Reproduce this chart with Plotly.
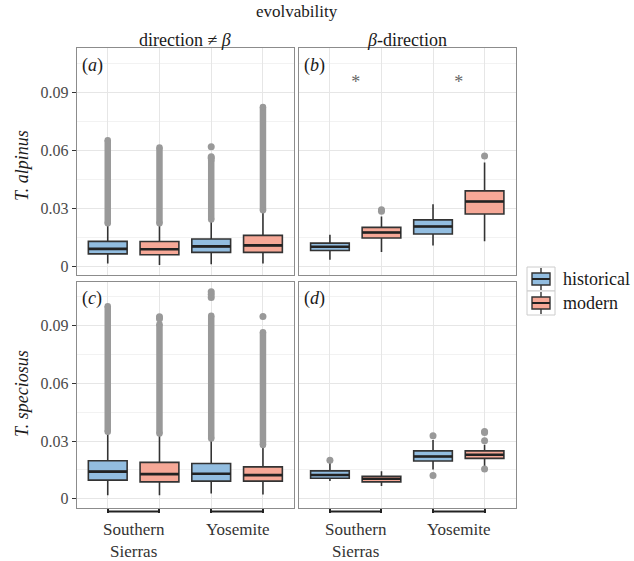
import plotly.graph_objects as go

# ---------------- data ----------------
groups = ["historical", "modern"]
group_colors = ["#92bde0", "#f6a897"]
region_labels = ["Southern<br>Sierras", "Yosemite"]
col_titles = ["direction ≠ <i>β</i>", "<i>β</i>-direction"]
row_titles = ["<i>T. alpinus</i>", "<i>T. speciosus</i>"]
panel_tags = ["(<i>a</i>)", "(<i>b</i>)", "(<i>c</i>)", "(<i>d</i>)"]
overall_title = "evolvability"
y_ticks = [0, 0.03, 0.06, 0.09]
y_ticklabels = ["0", "0.03", "0.06", "0.09"]

# box order in every panel: SS-historical, SS-modern, Yosemite-historical, Yosemite-modern
positions = [1, 2, 3, 4]

# (a) T. alpinus, direction != beta
a_low = [0.0014, 0.0007, 0.0011, 0.0014]
a_q1 = [0.0064, 0.0060, 0.0072, 0.0072]
a_med = [0.0090, 0.0088, 0.0103, 0.0108]
a_q3 = [0.0129, 0.0128, 0.0141, 0.0160]
a_up = [0.0215, 0.0215, 0.0235, 0.0283]
a_run_lo = [0.0222, 0.0222, 0.0242, 0.0290]
a_run_hi = [0.0652, 0.0614, 0.0548, 0.0823]
a_iso = [[], [], [0.0558, 0.0566, 0.0618], []]

# (b) T. alpinus, beta-direction
b_low = [0.0034, 0.0074, 0.0107, 0.0129]
b_q1 = [0.0082, 0.0146, 0.0167, 0.0270]
b_med = [0.0101, 0.0175, 0.0206, 0.0335]
b_q3 = [0.0120, 0.0201, 0.0240, 0.0390]
b_up = [0.0163, 0.0257, 0.0321, 0.0537]
b_run_lo = [None, None, None, None]
b_run_hi = [None, None, None, None]
b_iso = [[], [0.0285, 0.0292], [], [0.0570]]

# (c) T. speciosus, direction != beta
c_low = [0.0018, 0.0018, 0.0028, 0.0022]
c_q1 = [0.0097, 0.0088, 0.0092, 0.0092]
c_med = [0.0141, 0.0128, 0.0130, 0.0123]
c_q3 = [0.0198, 0.0189, 0.0183, 0.0166]
c_up = [0.0341, 0.0332, 0.0306, 0.0272]
c_run_lo = [0.0348, 0.0339, 0.0313, 0.0279]
c_run_hi = [0.1000, 0.0906, 0.0950, 0.0864]
c_iso = [[], [0.0935, 0.0945], [0.1045, 0.1060, 0.1075], [0.0946]]

# (d) T. speciosus, beta-direction
d_low = [0.0092, 0.0066, 0.0152, 0.0169]
d_q1 = [0.0107, 0.0088, 0.0196, 0.0210]
d_med = [0.0124, 0.0104, 0.0220, 0.0229]
d_q3 = [0.0145, 0.0117, 0.0249, 0.0249]
d_up = [0.0186, 0.0143, 0.0306, 0.0281]
d_run_lo = [None, None, None, None]
d_run_hi = [None, None, None, None]
d_iso = [[0.0200], [], [0.0328, 0.0121], [0.0344, 0.0350, 0.0302, 0.0155]]

# significance marks in panel (b)
sig_x = [1.5, 3.5]
sig_y = [0.0945, 0.0945]
sig_text = ["*", "*"]

# ---------------- figure ----------------
W, H = 634, 561
FONT = "Liberation Serif, Times New Roman, DejaVu Serif, serif"
BOXW = 0.75
OUTLINE = "#333333"
OUTCOL = "#999999"
GRID = "#e6e6e6"
MINOR = "#f2f2f2"
BORDER = "#8c8c8c"
YR = [-0.0045, 0.1127]
XR = [0.4, 4.6]

def px(x):
    return x / W

def py(y):
    return 1 - y / H

xdom = [[px(76.7), px(294.0)], [px(299.0), px(515.5)]]
ydom = [[py(275.0), py(48.3)], [py(507.5), py(281.7)]]

panels = [
    (a_low, a_q1, a_med, a_q3, a_up, a_run_lo, a_run_hi, a_iso),
    (b_low, b_q1, b_med, b_q3, b_up, b_run_lo, b_run_hi, b_iso),
    (c_low, c_q1, c_med, c_q3, c_up, c_run_lo, c_run_hi, c_iso),
    (d_low, d_q1, d_med, d_q3, d_up, d_run_lo, d_run_hi, d_iso),
]

fig = go.Figure()
for k, (low, q1, med, q3, up, rlo, rhi, iso) in enumerate(panels):
    sfx = "" if k == 0 else str(k + 1)
    xa, ya = "x" + sfx, "y" + sfx
    rx, ry = [], []
    for i, p in enumerate(positions):
        if rlo[i] is not None:
            rx += [p, p, None]
            ry += [rlo[i], rhi[i], None]
    if rx:
        fig.add_trace(go.Scatter(x=rx, y=ry, mode="lines+markers", xaxis=xa, yaxis=ya,
                                 line=dict(color=OUTCOL, width=6.5),
                                 marker=dict(color=OUTCOL, size=6.5),
                                 showlegend=False, hoverinfo="skip"))
    ix, iy = [], []
    for i, p in enumerate(positions):
        for v in iso[i]:
            ix.append(p)
            iy.append(v)
    if ix:
        fig.add_trace(go.Scatter(x=ix, y=iy, mode="markers", xaxis=xa, yaxis=ya,
                                 marker=dict(color=OUTCOL, size=7),
                                 showlegend=False, hoverinfo="skip"))
    for g in range(2):
        idx = [i for i in range(4) if i % 2 == g]
        fig.add_trace(go.Box(
            x=[positions[i] for i in idx],
            q1=[q1[i] for i in idx], median=[med[i] for i in idx],
            q3=[q3[i] for i in idx], lowerfence=[low[i] for i in idx],
            upperfence=[up[i] for i in idx],
            width=BOXW, whiskerwidth=0, boxpoints=False,
            fillcolor=group_colors[g], line=dict(color=OUTLINE, width=1.6),
            name=groups[g], showlegend=False, xaxis=xa, yaxis=ya, hoverinfo="skip"))
    mx, my = [], []
    for i, p in enumerate(positions):
        mx += [p - BOXW / 2, p + BOXW / 2, None]
        my += [med[i], med[i], None]
    fig.add_trace(go.Scatter(x=mx, y=my, mode="lines", xaxis=xa, yaxis=ya,
                             line=dict(color="#222222", width=2.6),
                             showlegend=False, hoverinfo="skip"))

fig.add_trace(go.Scatter(x=sig_x, y=sig_y, mode="text", text=sig_text, xaxis="x2", yaxis="y2",
                         textfont=dict(family=FONT, size=18, color="#666666"),
                         showlegend=False, hoverinfo="skip"))

layout = dict(
    width=W, height=H, margin=dict(l=0, r=0, t=0, b=0),
    paper_bgcolor="white", plot_bgcolor="white", boxmode="overlay",
    showlegend=False, font=dict(family=FONT, color="#333333"),
)
for k in range(4):
    r, c = divmod(k, 2)
    sfx = "" if k == 0 else str(k + 1)
    layout["xaxis" + sfx] = dict(
        domain=xdom[c], range=XR, anchor="y" + sfx, tickvals=positions,
        showticklabels=False, showgrid=True, gridcolor=GRID, gridwidth=1, zeroline=False,
        showline=True, mirror=True, linecolor=BORDER, linewidth=1,
        ticks="outside" if r == 1 else "", ticklen=4, tickwidth=2, tickcolor="#222222",
    )
    layout["yaxis" + sfx] = dict(
        domain=ydom[r], range=YR, anchor="x" + sfx, tickvals=y_ticks, ticktext=y_ticklabels,
        showticklabels=(c == 0), ticks="outside" if c == 0 else "", ticklen=4, tickwidth=1.2,
        tickcolor="#333333", tickfont=dict(family=FONT, size=16, color="#4a4a4a"),
        showgrid=True, gridcolor=GRID, gridwidth=1, zeroline=False,
        showline=True, mirror=True, linecolor=BORDER, linewidth=1,
        minor=dict(tickmode="linear", tick0=0, dtick=0.015, showgrid=True,
                   gridcolor=MINOR, gridwidth=0.7, ticks=""),
    )
fig.update_layout(**layout)

annotations = []
shapes = []
annotations.append(dict(text=overall_title, x=px(297), y=py(12), xref="paper", yref="paper",
                        showarrow=False, xanchor="center", yanchor="middle",
                        font=dict(family=FONT, size=17, color="#1a1a1a")))
for c in range(2):
    annotations.append(dict(text=col_titles[c], x=(xdom[c][0] + xdom[c][1]) / 2, y=py(40),
                            xref="paper", yref="paper", showarrow=False,
                            xanchor="center", yanchor="middle",
                            font=dict(family=FONT, size=18, color="#1a1a1a")))
row_centers = [166, 394]
for r in range(2):
    annotations.append(dict(text=row_titles[r], x=px(22), y=py(row_centers[r]),
                            xref="paper", yref="paper", showarrow=False, textangle=-90,
                            xanchor="center", yanchor="middle",
                            font=dict(family=FONT, size=18, color="#1a1a1a")))
for k in range(4):
    sfx = "" if k == 0 else str(k + 1)
    annotations.append(dict(text=panel_tags[k], x=0.014, y=0.926,
                            xref="x" + sfx + " domain", yref="y" + sfx + " domain",
                            showarrow=False, xanchor="left", yanchor="middle",
                            font=dict(family=FONT, size=18, color="#1a1a1a")))
for c in range(2):
    xa = "x" + str(c + 3)
    for j, lab in enumerate(region_labels):
        lo, hi = positions[2 * j], positions[2 * j + 1]
        annotations.append(dict(text=lab, x=(lo + hi) / 2, y=py(518), xref=xa, yref="paper",
                                showarrow=False, xanchor="center", yanchor="top",
                                font=dict(family=FONT, size=17, color="#333333")))
        shapes.append(dict(type="line", x0=lo, x1=hi, y0=py(511.5), y1=py(511.5),
                           xref=xa, yref="paper", line=dict(color="#222222", width=2.2)))
for g in range(2):
    top = 267 + 24 * g
    shapes.append(dict(type="rect", x0=px(527), x1=px(555), y0=py(top), y1=py(top + 24),
                       xref="paper", yref="paper", line=dict(color="#cccccc", width=1),
                       fillcolor="white", layer="above"))
    shapes.append(dict(type="line", x0=px(541), x1=px(541), y0=py(top + 1), y1=py(top + 23),
                       xref="paper", yref="paper", line=dict(color=OUTLINE, width=1.4)))
    shapes.append(dict(type="rect", x0=px(532), x1=px(550), y0=py(top + 6), y1=py(top + 18),
                       xref="paper", yref="paper", line=dict(color=OUTLINE, width=1.4),
                       fillcolor=group_colors[g]))
    shapes.append(dict(type="line", x0=px(532), x1=px(550), y0=py(top + 12), y1=py(top + 12),
                       xref="paper", yref="paper", line=dict(color="#222222", width=2)))
    annotations.append(dict(text=groups[g], x=px(561), y=py(top + 12), xref="paper", yref="paper",
                            showarrow=False, xanchor="left", yanchor="middle",
                            font=dict(family=FONT, size=18, color="#1a1a1a")))
fig.update_layout(annotations=annotations, shapes=shapes)

fig.write_html("out.html", config={"displayModeBar": False},
               post_script="document.body.style.margin='0';")
